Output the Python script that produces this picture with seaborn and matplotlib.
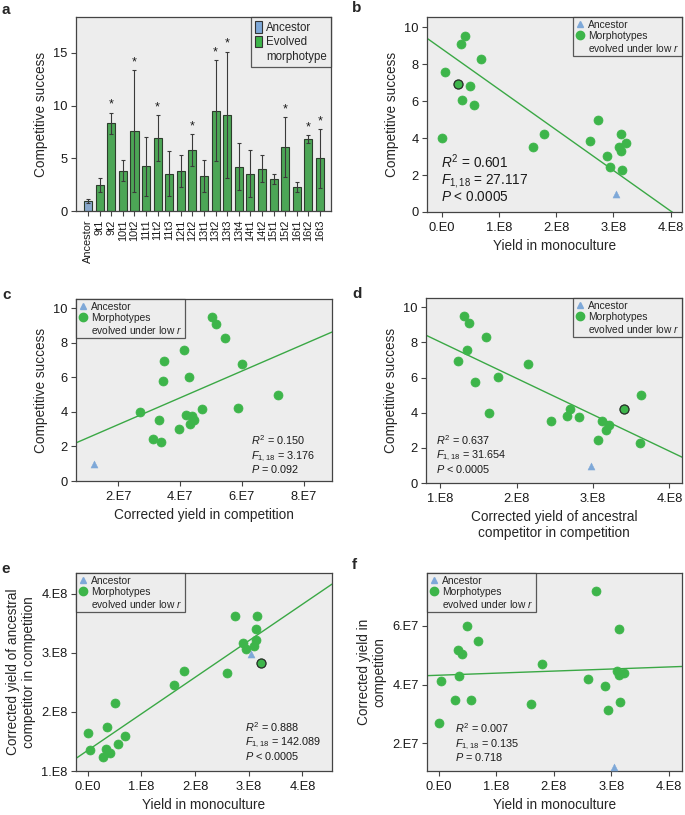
import numpy as np
import pandas as pd
import seaborn as sns
import matplotlib
matplotlib.use("Agg")
import matplotlib.pyplot as plt
from matplotlib.lines import Line2D
from matplotlib.patches import Patch

# ---------------- data ----------------
morphotypes = ['9t1', '9t2', '10t1', '10t2', '11t1', '11t2', '11t3', '12t1', '12t2', '13t1',
               '13t2', '13t3', '13t4', '14t1', '14t2', '15t1', '15t2', '16t1', '16t2', '16t3']
success = [2.45, 8.30, 3.84, 7.58, 4.24, 6.93, 3.53, 3.75, 5.77, 3.29,
           9.50, 9.10, 4.20, 3.54, 4.00, 3.04, 6.04, 2.26, 6.79, 4.99]
success_err = [0.68, 1.00, 1.03, 5.75, 2.80, 2.16, 2.13, 1.52, 1.53, 1.50,
               4.80, 6.00, 2.22, 2.24, 1.28, 0.50, 2.84, 0.50, 0.38, 2.78]
significant = [False, True, False, True, False, True, False, False, True, False,
               True, True, False, False, False, False, True, False, True, True]
mono_yield = [2.95e8, 0.69e8, 2.60e8, 0.05e8, 3.13e8, 0.29e8, 1.60e8, 3.22e8, 0.57e8, 3.14e8,
              0.41e8, 0.34e8, 1.79e8, 3.10e8, 0.00e8, 2.89e8, 0.36e8, 3.16e8, 0.50e8, 2.74e8]
comp_yield = [3.12e7, 5.47e7, 4.20e7, 4.14e7, 5.88e7, 3.49e7, 3.34e7, 4.39e7, 3.47e7, 4.32e7,
              5.05e7, 5.18e7, 4.71e7, 4.46e7, 2.71e7, 3.97e7, 4.28e7, 3.40e7, 6.00e7, 7.18e7]
anc_comp_yield = [3.06e8, 1.60e8, 2.66e8, 1.35e8, 3.40e8, 1.23e8, 2.45e8, 2.82e8, 1.46e8, 3.21e8,
                  1.31e8, 1.37e8, 2.70e8, 3.12e8, 1.64e8, 3.17e8, 1.75e8, 3.62e8, 2.15e8, 3.63e8]

ancestor_success = 0.98
ancestor_err = 0.19
ancestor_mono = 3.05e8
ancestor_comp = 1.21e7
ancestor_anc_comp = 2.98e8

stats_b = ["$R^2$ = 0.601", "$F_{1,18}$ = 27.117", "$P$ < 0.0005"]
stats_c = ["$R^2$ = 0.150", "$F_{1,18}$ = 3.176", "$P$ = 0.092"]
stats_d = ["$R^2$ = 0.637", "$F_{1,18}$ = 31.654", "$P$ < 0.0005"]
stats_e = ["$R^2$ = 0.888", "$F_{1,18}$ = 142.089", "$P$ < 0.0005"]
stats_f = ["$R^2$ = 0.007", "$F_{1,18}$ = 0.135", "$P$ = 0.718"]

yield_ticks = [0, 1e8, 2e8, 3e8, 4e8]
yield_labels = ['0.E0', '1.E8', '2.E8', '3.E8', '4.E8']
comp_ticks = [2e7, 4e7, 6e7, 8e7]
comp_labels = ['2.E7', '4.E7', '6.E7', '8.E7']
anc_ticks = [1e8, 2e8, 3e8, 4e8]
anc_labels = ['1.E8', '2.E8', '3.E8', '4.E8']
f_yticks = [2e7, 4e7, 6e7]
f_ylabels = ['2.E7', '4.E7', '6.E7']

# ---------------- style ----------------
sns.set_style("white")
plt.rcParams['font.family'] = ['Liberation Sans', 'DejaVu Sans']
plt.rcParams['mathtext.fontset'] = 'custom'
plt.rcParams['mathtext.rm'] = 'Liberation Sans'
plt.rcParams['mathtext.it'] = 'Liberation Sans:italic'
plt.rcParams['mathtext.bf'] = 'Liberation Sans:bold'

GREEN = '#3db54a'
LINE_GREEN = '#3aa845'
BLUE = '#7ea8d8'
BG = '#ededed'
FRAME = '#444444'
TICK_FS = 9.3
LABEL_FS = 9.8
LEG_FS = 7.4
STAT_FS = 7.8

W, H = 685, 815
fig = plt.figure(figsize=(W / 100, H / 100), dpi=100)


def add_ax(l, t, r, b):
    return fig.add_axes([l / W, 1 - b / H, (r - l) / W, (b - t) / H])


def style_ax(ax):
    ax.set_facecolor(BG)
    for s in ax.spines.values():
        s.set_color(FRAME)
        s.set_linewidth(0.9)
    ax.tick_params(axis='both', which='both', direction='out', length=3.5, width=0.8,
                   color=FRAME, labelsize=TICK_FS, left=True, bottom=True, top=False, right=False,
                   pad=2.5, labelcolor='#1a1a1a')
    ax.tick_params(axis='x', pad=4)


def scatter_legend(ax, loc):
    handles = [Line2D([], [], marker='^', ls='none', color=BLUE, markersize=5),
               Line2D([], [], marker='o', ls='none', color=GREEN, markersize=6),
               Line2D([], [], ls='none', marker=None)]
    labels = ['Ancestor', 'Morphotypes', 'evolved under low $r$']
    leg = ax.legend(handles, labels, loc=loc, borderaxespad=0, fontsize=LEG_FS, frameon=True,
                    fancybox=False, handlelength=0.8, handletextpad=0.4, borderpad=0.25,
                    labelspacing=0.1)
    leg.get_frame().set_edgecolor('#333333')
    leg.get_frame().set_facecolor(BG)
    leg.get_frame().set_linewidth(0.9)
    return leg


def scatter_panel(ax, x, y, ax_x, ax_y, xlim, ylim, highlight=None, fit_x_on_y=False):
    style_ax(ax)
    ax.set_xlim(*xlim)
    ax.set_ylim(*ylim)
    df = pd.DataFrame({'x': x, 'y': y})
    if fit_x_on_y:
        # line drawn from the regression of x on y, expressed as y(x)
        b, a = np.polyfit(df['y'], df['x'], 1)
        gx = np.linspace(xlim[0], xlim[1], 50)
        sns.lineplot(x=gx, y=(gx - a) / b, ax=ax, color=LINE_GREEN, lw=1.0, zorder=2)
    else:
        sns.regplot(data=df, x='x', y='y', ax=ax, scatter=False, ci=None, truncate=False,
                    line_kws=dict(color=LINE_GREEN, lw=1.0, zorder=2))
    sns.scatterplot(data=df, x='x', y='y', ax=ax, color=GREEN, s=42, edgecolor=GREEN,
                    linewidth=0.5, zorder=3, legend=False)
    if highlight is not None:
        i = morphotypes.index(highlight)
        sns.scatterplot(x=[x[i]], y=[y[i]], ax=ax, color=GREEN, s=42, edgecolor='#2b2b2b',
                        linewidth=0.9, zorder=4, legend=False)
    sns.scatterplot(x=[ax_x], y=[ax_y], ax=ax, color=BLUE, marker='^', s=26, edgecolor=BLUE,
                    linewidth=0.3, zorder=3, legend=False)
    ax.set_xlim(*xlim)
    ax.set_ylim(*ylim)
    ax.set_xlabel('')
    ax.set_ylabel('')


def stats_text(ax, lines, x, ys, fs):
    for line, yy in zip(lines, ys):
        ax.text(x, yy, line, transform=ax.transAxes, fontsize=fs, va='baseline', ha='left',
                color='#1a1a1a')


# ---------------- panel a ----------------
axa = add_ax(76, 17, 331, 211)
style_ax(axa)
names = ['Ancestor'] + morphotypes
vals = [ancestor_success] + success
errs = [ancestor_err] + success_err
groups = ['Ancestor'] + ['Evolved morphotype'] * len(morphotypes)
dfa = pd.DataFrame({'name': names, 'value': vals, 'group': groups})
sns.barplot(data=dfa, x='name', y='value', hue='group', dodge=False, ax=axa,
            palette={'Ancestor': BLUE, 'Evolved morphotype': GREEN}, width=0.7,
            edgecolor='#2d3d2d', linewidth=0.8, errorbar=None, legend=False, zorder=2)
xs = np.arange(len(names))
axa.errorbar(xs, vals, yerr=errs, fmt='none', ecolor='#3a3a3a', elinewidth=0.8,
             capsize=1.6, capthick=0.8, zorder=3)
for i, sig in enumerate(significant):
    if sig:
        axa.annotate('*', (i + 1, success[i] + success_err[i]), xytext=(0, 1.5),
                     textcoords='offset points', ha='center', va='bottom', fontsize=9,
                     color='#1a1a1a')
axa.set_xlim(-1.04, 20.95)
axa.set_ylim(0, 18.4)
axa.set_yticks([0, 5, 10, 15])
axa.set_xticks(xs)
axa.set_xticklabels(names, rotation=90, fontsize=7.9)
axa.tick_params(axis='x', pad=2.5)
axa.set_xlabel('')
axa.set_ylabel('Competitive success', fontsize=LABEL_FS, labelpad=4)
leg_a = axa.legend([Patch(facecolor=BLUE, edgecolor='#333333', lw=0.8),
                    Patch(facecolor=GREEN, edgecolor='#333333', lw=0.8),
                    Patch(facecolor='none', edgecolor='none')],
                   ['Ancestor', 'Evolved', 'morphotype'], loc='upper right', borderaxespad=0,
                   fontsize=8.3, frameon=True, fancybox=False, handlelength=0.6,
                   handleheight=1.2, handletextpad=0.4, borderpad=0.35, labelspacing=0.15)
leg_a.get_frame().set_edgecolor('#333333')
leg_a.get_frame().set_facecolor(BG)
leg_a.get_frame().set_linewidth(0.9)

# ---------------- panel b ----------------
axb = add_ax(427, 17, 682, 212)
scatter_panel(axb, mono_yield, success, ancestor_mono, ancestor_success,
              (-0.256e8, 4.2e8), (0, 10.55), highlight='11t2', fit_x_on_y=True)
axb.set_xticks(yield_ticks)
axb.set_xticklabels(yield_labels)
axb.set_yticks([0, 2, 4, 6, 8, 10])
axb.set_xlabel('Yield in monoculture', fontsize=LABEL_FS, labelpad=3)
axb.set_ylabel('Competitive success', fontsize=LABEL_FS, labelpad=4)
scatter_legend(axb, 'upper right')
stats_text(axb, stats_b, 0.053, [0.228, 0.144, 0.054], 9.8)

# ---------------- panel c ----------------
axc = add_ax(76, 299, 332, 481)
scatter_panel(axc, comp_yield, success, ancestor_comp, ancestor_success,
              (0.64e7, 8.92e7), (0, 10.55))
axc.set_xticks(comp_ticks)
axc.set_xticklabels(comp_labels)
axc.set_yticks([0, 2, 4, 6, 8, 10])
axc.set_xlabel('Corrected yield in competition', fontsize=LABEL_FS, labelpad=3)
axc.set_ylabel('Competitive success', fontsize=LABEL_FS, labelpad=4)
scatter_legend(axc, 'upper left')
stats_text(axc, stats_c, 0.683, [0.197, 0.122, 0.045], STAT_FS)

# ---------------- panel d ----------------
axd = add_ax(426, 298, 682, 483)
scatter_panel(axd, anc_comp_yield, success, ancestor_anc_comp, ancestor_success,
              (0.813e8, 4.165e8), (0, 10.53), highlight='11t1')
axd.set_xticks(anc_ticks)
axd.set_xticklabels(anc_labels)
axd.set_yticks([0, 2, 4, 6, 8, 10])
axd.set_xlabel('Corrected yield of ancestral\ncompetitor in competition', fontsize=LABEL_FS,
               labelpad=3)
axd.set_ylabel('Competitive success', fontsize=LABEL_FS, labelpad=4)
scatter_legend(axd, 'upper right')
stats_text(axd, stats_d, 0.039, [0.205, 0.132, 0.055], STAT_FS)

# ---------------- panel e ----------------
axe = add_ax(76, 573, 332, 771)
scatter_panel(axe, mono_yield, anc_comp_yield, ancestor_mono, ancestor_anc_comp,
              (-0.218e8, 4.55e8), (1.0e8, 4.35e8), highlight='12t1')
axe.set_xticks(yield_ticks)
axe.set_xticklabels(yield_labels)
axe.set_yticks(anc_ticks)
axe.set_yticklabels(anc_labels)
axe.set_xlabel('Yield in monoculture', fontsize=LABEL_FS, labelpad=3)
axe.set_ylabel('Corrected yield of ancestral\ncompetitor in competition', fontsize=LABEL_FS,
               labelpad=4)
scatter_legend(axe, 'upper left')
stats_text(axe, stats_e, 0.66, [0.199, 0.131, 0.058], STAT_FS)

# ---------------- panel f ----------------
axf = add_ax(427, 573, 682, 771)
scatter_panel(axf, mono_yield, comp_yield, ancestor_mono, ancestor_comp,
              (-0.2e8, 4.23e8), (1.06e7, 7.8e7))
axf.set_xticks(yield_ticks)
axf.set_xticklabels(yield_labels)
axf.set_yticks(f_yticks)
axf.set_yticklabels(f_ylabels)
axf.set_xlabel('Yield in monoculture', fontsize=LABEL_FS, labelpad=3)
axf.set_ylabel('Corrected yield in\ncompetition', fontsize=LABEL_FS, labelpad=4)
scatter_legend(axf, 'upper left')
stats_text(axf, stats_f, 0.108, [0.190, 0.122, 0.050], STAT_FS)

# ---------------- panel letters ----------------
for letter, (px, py) in {'a': (2, 10), 'b': (352, 8), 'c': (2, 295), 'd': (352, 294),
                         'e': (1, 569), 'f': (352, 565)}.items():
    fig.text(px / W, 1 - py / H, letter, fontsize=11, fontweight='bold', va='center',
             ha='left')

fig.savefig('out.png', dpi=100)
